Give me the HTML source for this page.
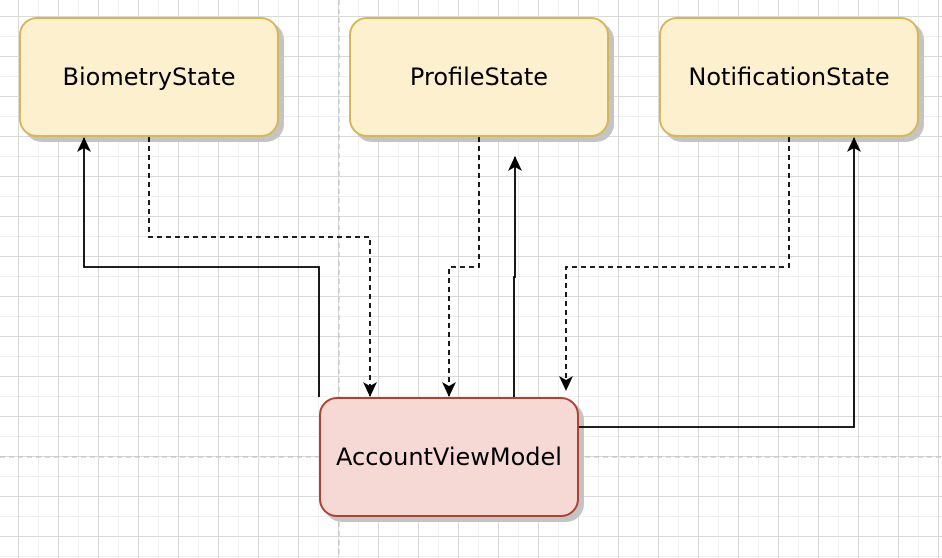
<!DOCTYPE html>
<html><head><style>
html,body{margin:0;padding:0}
body{width:942px;height:558px;position:relative;overflow:hidden;background:#fff;
background-image:
linear-gradient(to right,#d9d9d9 1px,transparent 1px),
linear-gradient(to bottom,#d9d9d9 1px,transparent 1px),
linear-gradient(to right,#efefef 1px,transparent 1px),
linear-gradient(to bottom,#efefef 1px,transparent 1px);
background-size:40px 40px,40px 40px,20px 20px,20px 20px;
background-position:18px 16px,18px 16px,18px 16px,18px 16px;}
.b{position:absolute;width:256px;height:116px;border-radius:18px;display:flex;align-items:center;justify-content:center;font:24px "DejaVu Sans","Liberation Sans",sans-serif;color:#000;box-shadow:5px 5px 0 #c4c4c4}
.y{background:#fcf0cf;border:2px solid #d6b656}
.r{background:#f6d9d4;border:2px solid #ae4132}
svg{position:absolute;left:0;top:0}
</style></head><body>
<svg width="942" height="558">
<line x1="339" y1="0" x2="339" y2="558" stroke="#bbb" stroke-dasharray="5,4"/>
<line x1="0" y1="457" x2="942" y2="457" stroke="#bbb" stroke-dasharray="5,4"/>
</svg>
<div class="b y" style="left:19px;top:17px">BiometryState</div>
<div class="b y" style="left:349px;top:17px">ProfileState</div>
<div class="b y" style="left:659px;top:17px">NotificationState</div>
<div class="b r" style="left:319px;top:397px">AccountViewModel</div>
<svg width="942" height="558">
<defs><marker id="a" markerWidth="16" markerHeight="14" refX="14" refY="7" orient="auto" markerUnits="userSpaceOnUse"><path d="M0,0 L15,7 L0,14 L4,7z" fill="#000"/></marker></defs>
<g fill="none" stroke="#000" stroke-width="1.8">
<path d="M319,397 V267 H84 V138" marker-end="url(#a)"/>
<path d="M514,397 V277 H515 V157" marker-end="url(#a)"/>
<path d="M579,427 H854 V138" marker-end="url(#a)"/>
<g stroke-dasharray="5,4">
<path d="M149,137 V237 H370 V396" marker-end="url(#a)"/>
<path d="M479,137 V267 H449 V396" marker-end="url(#a)"/>
<path d="M789,137 V267 H566 V390" marker-end="url(#a)"/>
</g></g></svg>
</body></html>
